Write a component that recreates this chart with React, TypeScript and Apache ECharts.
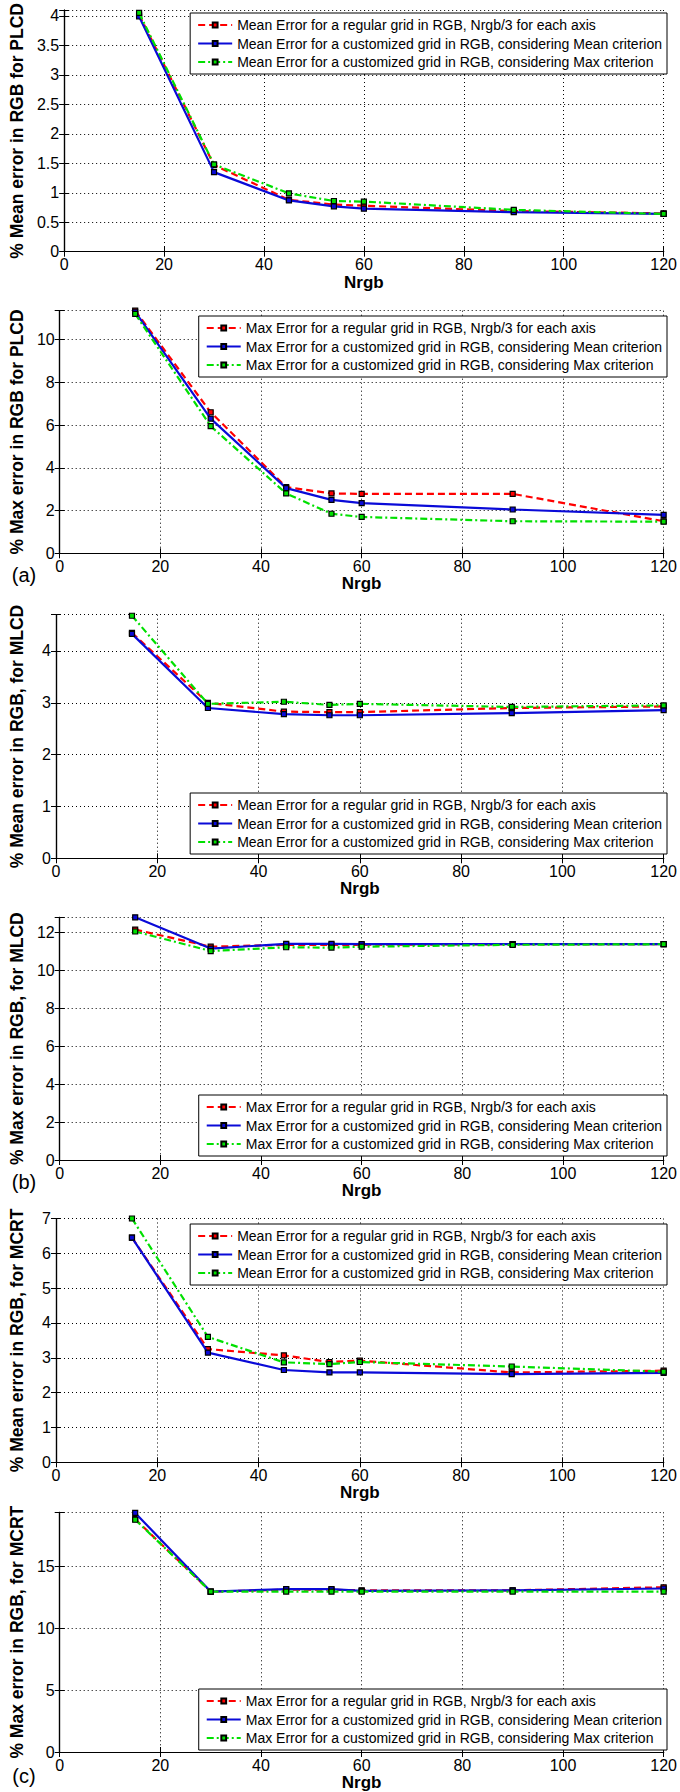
import React, { useEffect, useRef } from "react";
import * as echarts from "echarts";

// ---------------- data ----------------
const nrgb = [15, 30, 45, 54, 60, 90, 120];
const xTicks = [0, 20, 40, 60, 80, 100, 120];

const meanNames = [
  "Mean Error for a regular grid in RGB, Nrgb/3 for each axis",
  "Mean Error for a customized grid in RGB, considering Mean criterion",
  "Mean Error for a customized grid in RGB, considering Max criterion",
];
const maxNames = [
  "Max Error for a regular grid in RGB, Nrgb/3 for each axis",
  "Max Error for a customized grid in RGB, considering Mean criterion",
  "Max Error for a customized grid in RGB, considering Max criterion",
];

const yTitles = [
  "% Mean error in RGB for PLCD",
  "% Max error in RGB for PLCD",
  "% Mean error in RGB, for MLCD",
  "% Max error in RGB, for MLCD",
  "% Mean error in RGB, for MCRT",
  "% Max error in RGB, for MCRT",
];
const panelTags = ["", "(a)", "", "(b)", "", "(c)"];

// Panel 1: mean error PLCD
const plcdMeanRegular = [4.02, 1.47, 0.88, 0.8, 0.78, 0.69, 0.65];
const plcdMeanCustMean = [3.99, 1.35, 0.87, 0.77, 0.73, 0.67, 0.64];
const plcdMeanCustMax = [4.05, 1.48, 0.99, 0.86, 0.85, 0.71, 0.64];
// Panel 2: max error PLCD
const plcdMaxRegular = [11.35, 6.6, 3.1, 2.8, 2.78, 2.78, 1.5];
const plcdMaxCustMean = [11.3, 6.3, 3.05, 2.5, 2.35, 2.05, 1.8];
const plcdMaxCustMax = [11.2, 5.95, 2.8, 1.85, 1.7, 1.5, 1.48];
// Panel 3: mean error MLCD
const mlcdMeanRegular = [4.35, 3.0, 2.83, 2.82, 2.82, 2.9, 2.93];
const mlcdMeanCustMean = [4.33, 2.9, 2.78, 2.76, 2.76, 2.8, 2.86];
const mlcdMeanCustMax = [4.68, 2.98, 3.02, 2.96, 2.98, 2.92, 2.95];
// Panel 4: max error MLCD
const mlcdMaxRegular = [12.15, 11.25, 11.35, 11.35, 11.35, 11.38, 11.38];
const mlcdMaxCustMean = [12.8, 11.15, 11.4, 11.4, 11.38, 11.38, 11.38];
const mlcdMaxCustMax = [12.05, 11.02, 11.22, 11.2, 11.25, 11.35, 11.38];
// Panel 5: mean error MCRT
const mcrtMeanRegular = [6.45, 3.25, 3.07, 2.88, 2.92, 2.58, 2.63];
const mcrtMeanCustMean = [6.45, 3.15, 2.65, 2.58, 2.58, 2.53, 2.57];
const mcrtMeanCustMax = [7.0, 3.6, 2.87, 2.82, 2.88, 2.75, 2.6];
// Panel 6: max error MCRT
const mcrtMaxRegular = [18.8, 12.95, 13.1, 13.1, 13.05, 13.05, 13.3];
const mcrtMaxCustMean = [19.3, 12.95, 13.15, 13.15, 13.0, 13.05, 13.2];
const mcrtMaxCustMax = [18.75, 12.95, 12.95, 12.95, 12.95, 12.95, 12.95];

const yMax = [4.1, 11.35, 4.7, 12.8, 7, 19.35];
const yStep = [0.5, 2, 1, 2, 1, 5];

const panelSeries = [
  [plcdMeanRegular, plcdMeanCustMean, plcdMeanCustMax],
  [plcdMaxRegular, plcdMaxCustMean, plcdMaxCustMax],
  [mlcdMeanRegular, mlcdMeanCustMean, mlcdMeanCustMax],
  [mlcdMaxRegular, mlcdMaxCustMean, mlcdMaxCustMax],
  [mcrtMeanRegular, mcrtMeanCustMean, mcrtMeanCustMax],
  [mcrtMaxRegular, mcrtMaxCustMean, mcrtMaxCustMax],
];

// ---------------- layout / style ----------------
const FONT = '"Liberation Sans", Arial, Helvetica, sans-serif';
const gridLeft = 56;
const gridWidth = 616;
const gridTops = [6.5, 310.7, 614.7, 917.3, 1218.5, 1512.3];
const gridHeights = [245.2, 242.6, 243.6, 242.7, 243.8, 242];
const legendTops = [13, 316, 793, 1095, 1224, 1689];

const lineColors = ["#ff0000", "#0a0ad8", "#00e000"];
const lineTypes: any[] = [[7, 4], "solid", [7, 3, 2, 3]];

function App() {
  const ref = useRef<HTMLDivElement>(null);

  useEffect(() => {
    if (!ref.current) return;
    const chart = echarts.init(ref.current, undefined, { renderer: "svg" });

    const grid: any[] = [];
    const xAxis: any[] = [];
    const yAxis: any[] = [];
    const series: any[] = [];
    const legend: any[] = [];
    const graphic: any[] = [];

    for (let i = 0; i < 6; i++) {
      const names = i % 2 === 0 ? meanNames : maxNames;
      grid.push({
        left: gridLeft,
        top: gridTops[i],
        width: gridWidth,
        height: gridHeights[i],
        show: true,
        backgroundColor: "#fff",
        borderWidth: 0,
      });
      const axisLine = { show: true, lineStyle: { color: "#000", width: 1.2 } };
      const tick = { show: true, inside: true, length: 5, lineStyle: { color: "#000" } };
      const step = yStep[i];
      xAxis.push({
        type: "value",
        gridIndex: i,
        position: "bottom",
        min: 0,
        max: 120,
        interval: 20,
        axisLine,
        axisTick: tick,
        axisLabel: {
          margin: 5,
          fontSize: 16,
          fontFamily: FONT,
          color: "#000",
          formatter: (v: number) => (xTicks.indexOf(v) >= 0 ? String(v) : ""),
        },
        splitLine: { show: true, lineStyle: { color: "#000", width: 1, type: [1, 3] } },
        name: "Nrgb",
        nameLocation: "middle",
        nameGap: 22,
        nameTextStyle: { fontSize: 17, fontWeight: "bold", fontFamily: FONT, color: "#000" },
      });
      xAxis.push({
        type: "value",
        gridIndex: i,
        position: "top",
        min: 0,
        max: 120,
        interval: 20,
        axisLine,
        axisTick: tick,
        axisLabel: { show: false },
        splitLine: { show: false },
      });
      yAxis.push({
        type: "value",
        gridIndex: i,
        position: "left",
        min: 0,
        max: yMax[i],
        interval: step,
        axisLine,
        axisTick: tick,
        axisLabel: {
          margin: 5,
          fontSize: 16,
          fontFamily: FONT,
          color: "#000",
          formatter: (v: number) => {
            const k = v / step;
            return Math.abs(k - Math.round(k)) < 1e-6 ? String(+v.toFixed(2)) : "";
          },
        },
        splitLine: { show: true, lineStyle: { color: "#000", width: 1, type: [1, 3] } },
        name: yTitles[i],
        nameLocation: "middle",
        nameGap: 30,
        nameTextStyle: { fontSize: 17.5, fontWeight: "bold", fontFamily: FONT, color: "#000" },
      });
      yAxis.push({
        type: "value",
        gridIndex: i,
        position: "right",
        min: 0,
        max: yMax[i],
        interval: step,
        axisLine,
        axisTick: tick,
        axisLabel: { show: false },
        splitLine: { show: false },
      });

      panelSeries[i].forEach((vals, s) => {
        series.push({
          type: "line",
          name: names[s],
          xAxisIndex: 2 * i,
          yAxisIndex: 2 * i,
          data: nrgb.map((x, k) => [x, vals[k]]),
          symbol: "rect",
          symbolSize: 5,
          showAllSymbol: true,
          lineStyle: { color: lineColors[s], width: 2.2, type: lineTypes[s] },
          itemStyle: { color: lineColors[s], borderColor: "#000", borderWidth: 1.2 },
          emphasis: { disabled: true },
          z: 3 + s,
        });
      });

      legend.push({
        data: names,
        orient: "vertical",
        right: 13,
        top: legendTops[i],
        itemWidth: 34,
        itemHeight: 6,
        itemGap: 2.5,
        padding: [4, 5, 4, 7],
        backgroundColor: "#fff",
        borderColor: "#000",
        borderWidth: 1,
        borderRadius: 0,
        selectedMode: false,
        textStyle: { fontSize: 14, fontFamily: FONT, color: "#000", lineHeight: 16 },
        z: 10,
      });

      if (panelTags[i]) {
        graphic.push({
          type: "text",
          x: 24,
          y: gridTops[i] + gridHeights[i] + 22,
          style: {
            text: panelTags[i],
            fontSize: 20,
            fontFamily: FONT,
            fill: "#000",
            align: "center",
            verticalAlign: "middle",
          },
        });
      }
    }

    chart.setOption({
      animation: false,
      backgroundColor: "#fff",
      grid,
      xAxis,
      yAxis,
      series,
      legend,
      graphic,
      tooltip: { show: false },
    });

    return () => chart.dispose();
  }, []);

  return (
    <div
      ref={ref}
      style={{ position: "absolute", left: 0, top: 0, width: 680, height: 1792, background: "#fff" }}
    />
  );
}

export default App;
